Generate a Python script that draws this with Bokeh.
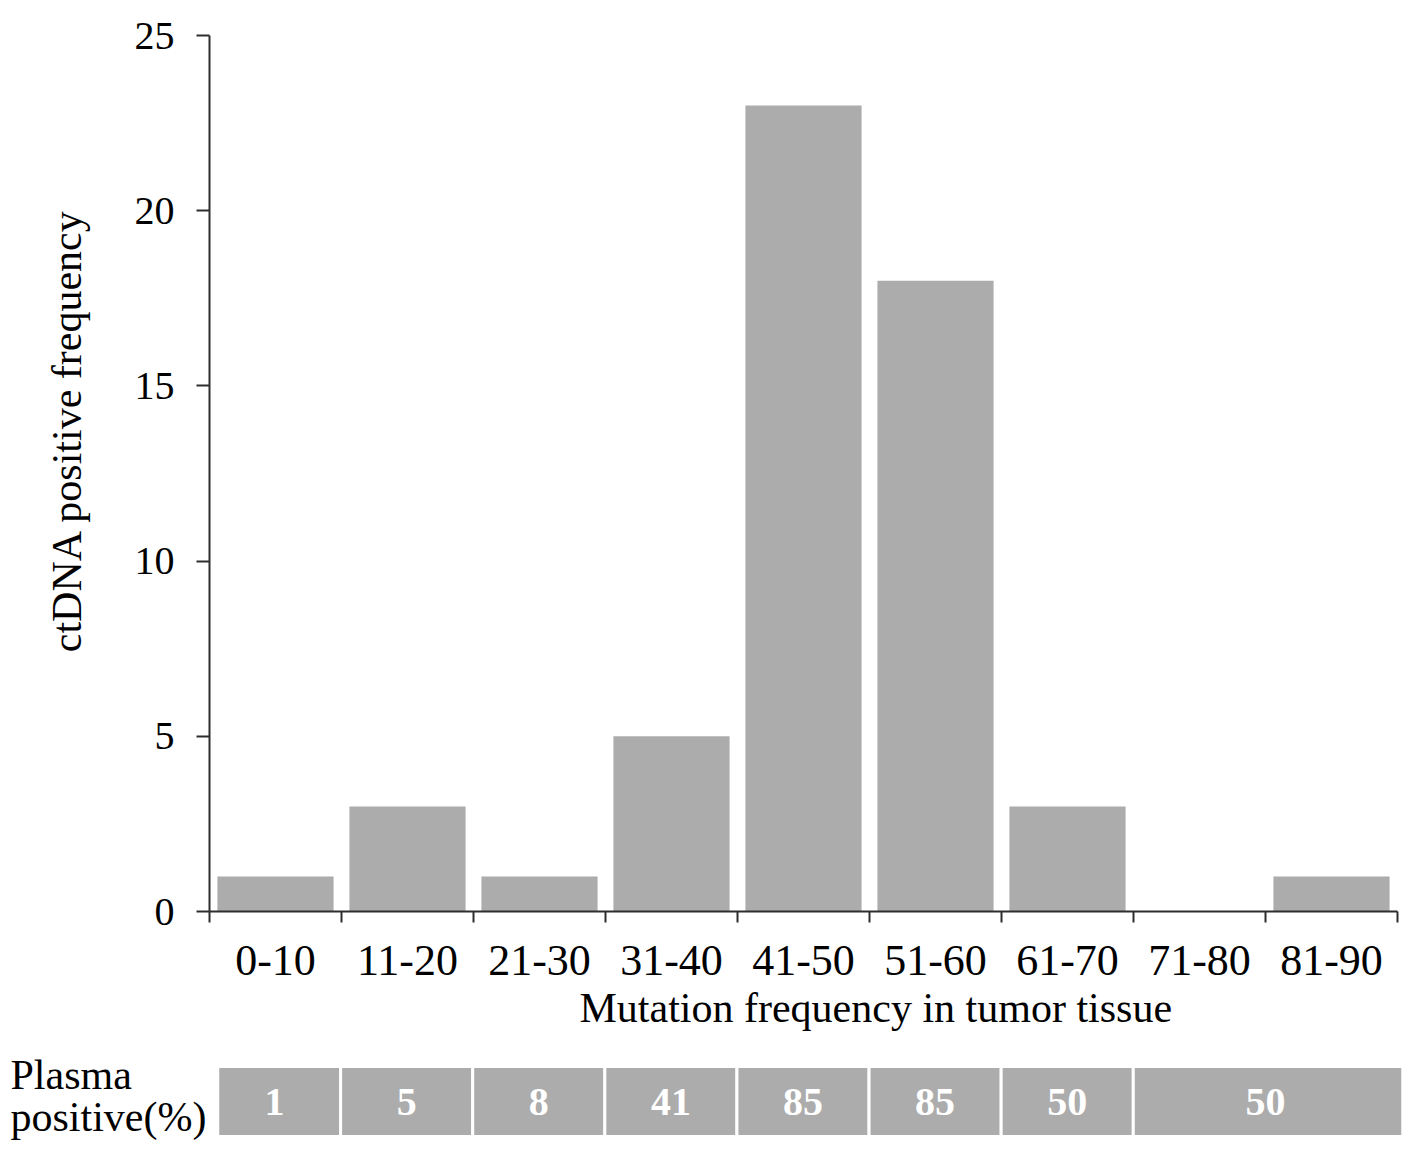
from bokeh.plotting import figure
from bokeh.models import Range1d, FixedTicker, ColumnDataSource, Title
from bokeh.core.properties import value
from bokeh.embed import file_html
from bokeh.resources import INLINE

# ---- data ----
categories = ["0-10", "11-20", "21-30", "31-40", "41-50", "51-60", "61-70", "71-80", "81-90"]
ctdna_freq = [1, 3, 1, 5, 23, 18, 3, 0, 1]
y_ticks = [0, 5, 10, 15, 20, 25]

plasma_values = ["1", "5", "8", "41", "85", "85", "50", "50"]
plasma_first_cat = [0, 1, 2, 3, 4, 5, 6, 7]   # first category index covered by cell
plasma_last_cat = [0, 1, 2, 3, 4, 5, 6, 8]    # last category index covered by cell
plasma_row_title = ["Plasma", "positive(%)"]

FONT = "Liberation Serif"
BAR = "#acacac"
AXIS = "#2e2e2e"

n = len(categories)
centers = [i + 0.5 for i in range(n)]

# layout constants (pixels)
W = 1408
LEFT = 208
RIGHT = 11
MAIN_H = 1036
TABLE_H = 113

# ---- main chart ----
p = figure(width=W, height=MAIN_H, output_backend="svg", toolbar_location=None,
           x_range=Range1d(0, n), y_range=Range1d(0, 25),
           min_border_left=LEFT, min_border_right=RIGHT, min_border_top=35,
           min_border_bottom=MAIN_H - 911)
p.outline_line_color = None
p.xgrid.visible = False
p.ygrid.visible = False

src = ColumnDataSource(dict(x=centers, top=ctdna_freq, cat=categories))
p.vbar(x="x", top="top", bottom=0, width=0.88, source=src, fill_color=BAR, line_color=None)

# x axis: labels at centres, boundary ticks as minor ticks
p.xaxis.ticker = FixedTicker(ticks=centers, minor_ticks=list(range(n + 1)))
p.xaxis.major_label_overrides = {c: lab for c, lab in zip(centers, categories)}
p.xaxis.major_tick_out = 0
p.xaxis.major_tick_in = 0
p.xaxis.minor_tick_out = 11
p.xaxis.minor_tick_in = 0
p.xaxis.minor_tick_line_color = AXIS
p.xaxis.minor_tick_line_width = 2
p.xaxis.axis_line_color = AXIS
p.xaxis.axis_line_width = 2
p.xaxis.major_label_text_font = FONT
p.xaxis.major_label_text_font_size = "44px"
p.xaxis.major_label_text_color = "black"
p.xaxis.major_label_standoff = 23

# y axis
p.yaxis.ticker = FixedTicker(ticks=y_ticks)
p.yaxis.major_tick_out = 13
p.yaxis.major_tick_in = 0
p.yaxis.minor_tick_out = 0
p.yaxis.minor_tick_in = 0
p.yaxis.major_tick_line_color = AXIS
p.yaxis.major_tick_line_width = 2
p.yaxis.axis_line_color = AXIS
p.yaxis.axis_line_width = 2
p.yaxis.major_label_text_font = FONT
p.yaxis.major_label_text_font_size = "40px"
p.yaxis.major_label_text_color = "black"
p.yaxis.major_label_standoff = 22

# axis titles (placed as side titles so they can be shifted like the original)
x_title = Title(text="Mutation frequency in tumor tissue", align="left", offset=370,
                standoff=11, text_font=FONT, text_font_size="42px", text_font_style="normal",
                text_color="black")
p.add_layout(x_title, "below")
y_title = Title(text="ctDNA positive  frequency", align="right", offset=163,
                standoff=83, text_font=FONT, text_font_size="42px", text_font_style="normal",
                text_color="black")
p.add_layout(y_title, "left")

# ---- plasma positive table (frame spans the whole canvas) ----
px_per_cat = (W - LEFT - RIGHT) / n
cell_top_px, cell_bottom_px = 30, 100         # from top of the table canvas
px_per_row = cell_bottom_px - cell_top_px
t_x0 = -LEFT / px_per_cat
t_x1 = n + RIGHT / px_per_cat
t_y0 = -(TABLE_H - cell_bottom_px) / px_per_row
t_y1 = 1 + cell_top_px / px_per_row
t = figure(width=W, height=TABLE_H, output_backend="svg", toolbar_location=None,
           x_range=Range1d(t_x0, t_x1), y_range=Range1d(t_y0, t_y1),
           min_border_left=0, min_border_right=0, min_border_top=0, min_border_bottom=0)
t.outline_line_color = None
t.xgrid.visible = False
t.ygrid.visible = False
t.xaxis.visible = False
t.yaxis.visible = False

lefts = [a + (0.07 if a == 0 else 0.0) for a in plasma_first_cat]
rights = [b + 1 + (0.04 if b == n - 1 else 0.0) for b in plasma_last_cat]
mids = [(a + b + 1) / 2 for a, b in zip(plasma_first_cat, plasma_last_cat)]
tsrc = ColumnDataSource(dict(left=lefts, right=rights, mid=mids, txt=plasma_values))
t.quad(left="left", right="right", bottom=0, top=1, source=tsrc,
       fill_color=BAR, line_color="white", line_width=3)
t.text(x="mid", y=0.5, text="txt", source=tsrc, text_align="center", text_baseline="middle",
       text_font=value(FONT), text_font_size="40px", text_font_style="bold", text_color="white")

# row title, left of the cells
row_y = [t_y1 - 38 / px_per_row, t_y1 - 80 / px_per_row]
t.text(x=[t_x0, t_x0], y=row_y, text=plasma_row_title, x_offset=10,
       text_align="left", text_baseline="alphabetic",
       text_font=value(FONT), text_font_size="42px", text_color="black")

open("out.html", "w").write(file_html([p, t], INLINE))
